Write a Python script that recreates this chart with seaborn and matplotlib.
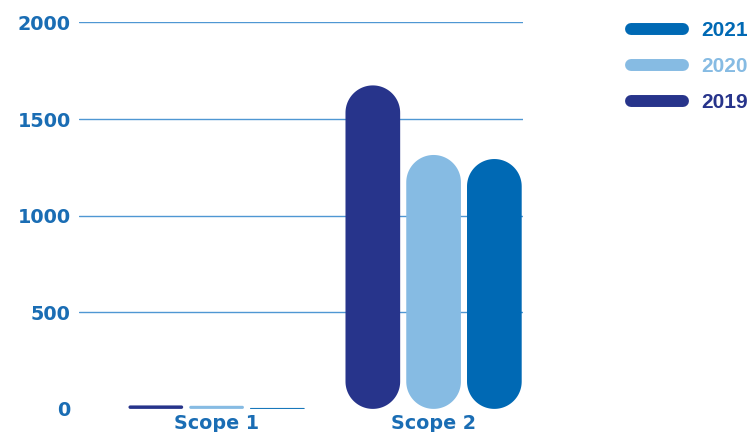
import matplotlib
matplotlib.use("Agg")
import matplotlib.pyplot as plt
from matplotlib.patches import FancyBboxPatch, Polygon
from matplotlib.lines import Line2D
import numpy as np
import pandas as pd
import seaborn as sns

# --- Dados ---
scopes = ["Scope 1", "Scope 2"]
years = ["2019", "2020", "2021"]
values_2019 = [18, 1674]
values_2020 = [16, 1314]
values_2021 = [5, 1293]
y_ticks = [0, 500, 1000, 1500, 2000]
year_colors = {"2019": "#27348b", "2020": "#86bbe3", "2021": "#0069b4"}
text_color = "#1a6db4"
grid_color = "#4f97d3"

df = pd.DataFrame({
    "scope": scopes * 3,
    "year": ["2019"] * 2 + ["2020"] * 2 + ["2021"] * 2,
    "value": values_2019 + values_2020 + values_2021,
})

sns.set_style("white")
plt.rcParams["font.family"] = ["DejaVu Sans"]

W, H = 750, 432
fig = plt.figure(figsize=(W / 100, H / 100), dpi=100)
ax_left, ax_right, ax_bottom, ax_top = 79, 523, 408.9, 22.4
ax = fig.add_axes([ax_left / W, (H - ax_bottom) / H,
                   (ax_right - ax_left) / W, (ax_bottom - ax_top) / H])

sns.barplot(data=df, x="scope", y="value", hue="year", order=scopes,
            hue_order=years, palette=year_colors, saturation=1,
            width=0.84, gap=0.1, legend=False, ax=ax)

xlim = (-0.634, 1.412)
ylim = (0, 2000)
ax.set_xlim(*xlim)
ax.set_ylim(*ylim)

# --- Barras arredondadas (cápsulas) ---
x_per_px = (xlim[1] - xlim[0]) / (ax_right - ax_left)
y_per_px = (ylim[1] - ylim[0]) / (ax_bottom - ax_top)
aspect = y_per_px / x_per_px
t_top = np.linspace(0, np.pi, 60)
t_bot = np.linspace(np.pi, 2 * np.pi, 60)
for bar in list(ax.patches):
    x, w, h = bar.get_x(), bar.get_width(), bar.get_height()
    color = bar.get_facecolor()
    bar.remove()
    if h <= 0:
        continue
    rx = w / 2
    ry = rx * aspect  # raio em unidades de y
    xc = x + rx
    kw = dict(facecolor=color, edgecolor="none", clip_on=False, zorder=3)
    if h > 2 * ry:
        top = np.column_stack([xc + rx * np.cos(t_top), h - ry + ry * np.sin(t_top)])
        bot = np.column_stack([xc + rx * np.cos(t_bot), ry + ry * np.sin(t_bot)])
        ax.add_patch(Polygon(np.vstack([top, bot]), closed=True, **kw))
    else:
        r = h / aspect / 2
        ax.add_patch(FancyBboxPatch((x, 0), w, h,
                                    boxstyle=f"round,pad=0,rounding_size={r}",
                                    mutation_aspect=aspect, **kw))

# --- Eixos ---
ax.set_yticks(y_ticks)
ax.set_yticklabels([str(t) for t in y_ticks])
ax.yaxis.grid(True, color=grid_color, linewidth=1)
ax.get_ygridlines()[0].set_visible(False)
ax.set_axisbelow(True)
for s in ax.spines.values():
    s.set_visible(False)
ax.tick_params(axis="y", length=0, pad=6, labelsize=13.8, labelcolor=text_color)
ax.tick_params(axis="x", length=0, pad=3.5, labelsize=13.8, labelcolor=text_color)
for lbl in ax.get_xticklabels() + ax.get_yticklabels():
    lbl.set_fontweight("bold")
ax.set_xlabel("")
ax.set_ylabel("")

# --- Legenda ---
legend_years = ["2021", "2020", "2019"]
handles = [Line2D([], [], color=year_colors[y], linewidth=8.6,
                  solid_capstyle="round") for y in legend_years]
leg = fig.legend(handles, legend_years, loc="upper left",
                 bbox_to_anchor=(631 / W, 1 - 21 / H), frameon=False,
                 prop={"family": "Liberation Sans", "weight": "bold", "size": 15},
                 handlelength=2.5, handletextpad=0.85,
                 labelspacing=0.82, borderpad=0, borderaxespad=0)
for txt, y in zip(leg.get_texts(), legend_years):
    txt.set_color(year_colors[y])

fig.savefig("out.png", dpi=100)
